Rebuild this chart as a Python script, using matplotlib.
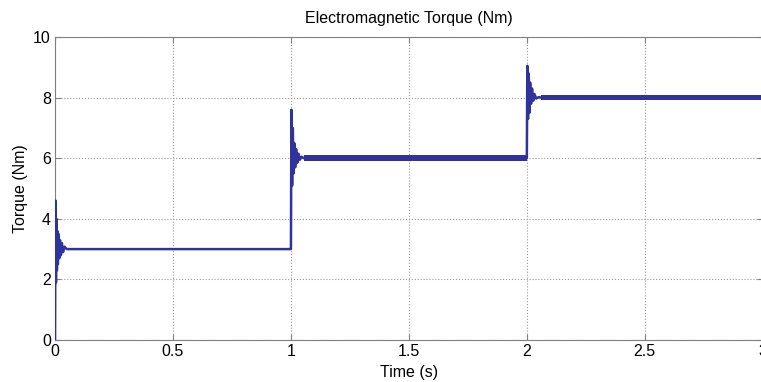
"""Electromagnetic torque step response (Nm) vs time."""

import numpy as np
import matplotlib
matplotlib.use("Agg")
import matplotlib.pyplot as plt

plt.rcParams["font.family"] = ["Liberation Sans", "DejaVu Sans"]

LINE_C = "#30349a"

# transient keypoints (time s, torque Nm)
t_start = [0.0, 0.002, 0.004, 0.006, 0.008, 0.010, 0.012, 0.015, 0.018,
           0.021, 0.025, 0.029, 0.034, 0.040, 0.050]
y_start = [0.0, 4.6, 1.9, 4.0, 2.3, 3.6, 2.5, 3.5, 2.7,
           3.3, 2.8, 3.2, 2.9, 3.08, 3.0]

t_step1 = [1.0, 1.002, 1.005, 1.008, 1.011, 1.014, 1.018, 1.022, 1.027,
           1.032, 1.038, 1.045, 1.055]
y_step1 = [3.0, 7.6, 5.1, 7.0, 5.5, 6.5, 5.7, 6.3, 5.85,
           6.15, 5.95, 6.05, 6.0]

t_step2 = [2.0, 2.002, 2.005, 2.008, 2.011, 2.014, 2.018, 2.022, 2.027,
           2.032, 2.040, 2.050, 2.060]
y_step2 = [6.0, 9.05, 7.3, 8.8, 7.5, 8.5, 7.8, 8.3, 7.9,
           8.12, 7.97, 8.02, 8.0]

# steady segments: start, end, level, ripple half-width
seg_start = [0.05, 1.055, 2.06]
seg_end = [1.0, 2.0, 3.0]
seg_level = [3.0, 6.0, 8.0]
seg_ripple = [0.04, 0.09, 0.09]

x_ticks = [0, 0.5, 1, 1.5, 2, 2.5, 3]
x_labels = ["0", "0.5", "1", "1.5", "2", "2.5", "3"]
y_ticks = [0, 2, 4, 6, 8, 10]

fig = plt.figure(figsize=(7.61, 3.82), dpi=100)
ax = fig.add_axes([0.0723, 0.110, 0.930, 0.793])

t = np.concatenate([t_start, [0.999], t_step1, [1.999], t_step2, [3.0]])
y = np.concatenate([y_start, [3.0], y_step1, [6.0], y_step2, [8.0]])
ax.plot(t, y, color=LINE_C, lw=1.8, zorder=3)

for a, b, lev, r in zip(seg_start, seg_end, seg_level, seg_ripple):
    ax.fill_between([a, b], [lev - r] * 2, [lev + r] * 2,
                    color=LINE_C, lw=0, zorder=3)

ax.set_xlim(0, 3)
ax.set_ylim(0, 10)
ax.set_xticks(x_ticks)
ax.set_xticklabels(x_labels)
ax.set_yticks(y_ticks)
ax.grid(True, color="#9a9a9a", linestyle=":", lw=0.8)
ax.tick_params(direction="in", top=True, right=True, labelsize=11.5,
               color="#808080", length=4, pad=3)
for s in ax.spines.values():
    s.set_color("#808080")
    s.set_linewidth(0.8)

ax.set_title("Electromagnetic Torque (Nm)", fontsize=11.5, pad=10)
ax.set_xlabel("Time (s)", fontsize=11.5, labelpad=4)
ax.set_ylabel("Torque (Nm)", fontsize=11.5, labelpad=4)

fig.savefig("out.png", dpi=100)
